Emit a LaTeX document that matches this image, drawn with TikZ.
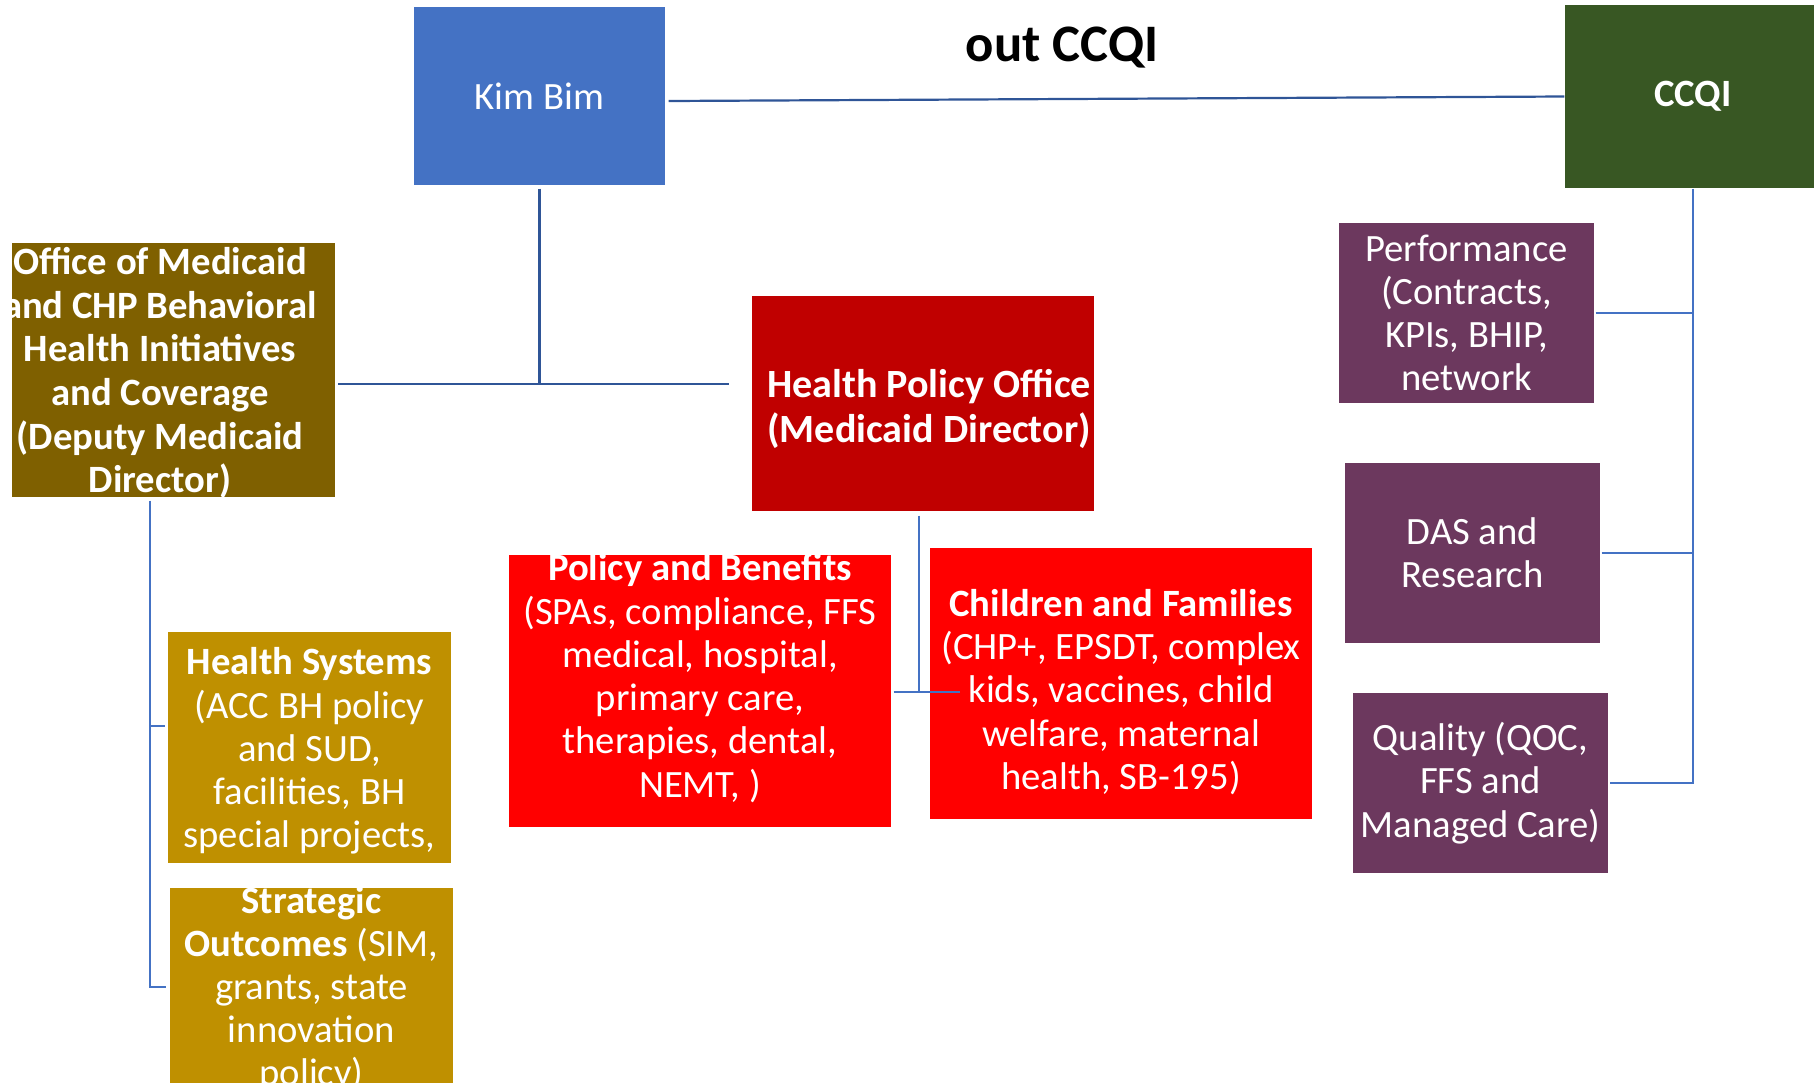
\documentclass[tikz,border=0pt]{standalone}
\usepackage{fontspec}
\setmainfont{Carlito}
\usepackage{xcolor}
\definecolor{kimblue}{HTML}{4472C4}
\definecolor{linkblue}{HTML}{2F5597}
\definecolor{ccqigreen}{HTML}{385723}
\definecolor{deputyolive}{HTML}{7F6000}
\definecolor{teamgold}{HTML}{BF9000}
\definecolor{hpored}{HTML}{C00000}
\definecolor{teamred}{HTML}{FF0000}
\definecolor{ccqiplum}{HTML}{6C385E}
\usetikzlibrary{calc}

\begin{document}
\begin{tikzpicture}[
		unit/.style = {rectangle, inner sep = 0pt, text = white, align = center, font = \fontsize{11}{12.3}\selectfont},
		link/.style = {draw = kimblue, line width = 0.28mm},
		toplink/.style = {draw = linkblue, line width = 0.22mm}
	]
	\useasboundingbox (0,0) rectangle (18.14,-10.85);

	\node[font = \fontsize{15}{18}\selectfont\bfseries, anchor = base] (title) at (10.62,-0.61) {out CCQI};

	\node[unit, fill = kimblue, minimum width = 2.51cm, minimum height = 1.78cm] (kim) at (5.395,-0.96) {Kim Bim};
	\node[unit, fill = ccqigreen, minimum width = 2.56cm, minimum height = 1.83cm, font = \fontsize{11}{12.3}\selectfont\bfseries] (ccqi) at (16.93,-0.965) {CCQI};

	\node[unit, fill = deputyolive, minimum width = 3.23cm, minimum height = 2.54cm] (office) at (1.735,-3.70) {};
	\begin{scope}
		\clip (office.south west) rectangle (office.north east);
		\node[unit, font = \fontsize{11}{12.4}\selectfont\bfseries] (officetext) at (1.60,-3.73) {Office of Medicaid\\and CHP Behavioral\\Health Initiatives\\and Coverage\\(Deputy Medicaid\\Director)};
	\end{scope}

	\node[unit, fill = hpored, minimum width = 3.42cm, minimum height = 2.15cm] (hpo) at (9.23,-4.035) {};
	\node[unit, font = \fontsize{11.4}{12.6}\selectfont\bfseries] (hpotext) at (9.29,-4.09) {Health Policy Office\\(Medicaid Director)};

	\node[unit, fill = teamred, minimum width = 3.82cm, minimum height = 2.72cm] (policy) at (7.00,-6.91) {};
	\node[unit] (policytext) at (7.00,-6.78) {\textbf{Policy and Benefits}\\(SPAs, compliance, FFS\\medical, hospital,\\primary care,\\therapies, dental,\\NEMT, )};
	\node[unit, fill = teamred, minimum width = 3.82cm, minimum height = 2.71cm] (children) at (11.21,-6.835) {};
	\node[unit] (childrentext) at (11.21,-6.92) {\textbf{Children and Families}\\(CHP+, EPSDT, complex\\kids, vaccines, child\\welfare, maternal\\health, SB-195)};

	\node[unit, fill = teamgold, minimum width = 2.83cm, minimum height = 2.31cm] (hsys) at (3.095,-7.475) {};
	\node[unit] (hsystext) at (3.095,-7.51) {\textbf{Health Systems}\\(ACC BH policy\\and SUD,\\facilities, BH\\special projects,};
	\node[unit, fill = teamgold, minimum width = 2.83cm, minimum height = 1.95cm] (strat) at (3.115,-9.855) {};
	\node[unit] (strattext) at (3.115,-9.89) {\textbf{Strategic}\\\textbf{Outcomes} (SIM,\\grants, state\\innovation\\policy)};

	\node[unit, fill = ccqiplum, minimum width = 2.55cm, minimum height = 1.80cm] (perf) at (14.665,-3.13) {Performance\\(Contracts,\\KPIs, BHIP,\\network};
	\node[unit, fill = ccqiplum, minimum width = 2.55cm, minimum height = 1.80cm] (das) at (14.725,-5.53) {DAS and\\Research};
	\node[unit, fill = ccqiplum, minimum width = 2.55cm, minimum height = 1.80cm] (quality) at (14.805,-7.83) {Quality (QOC,\\FFS and\\Managed Care)};

	\coordinate (midL) at (3.38,-3.84);
	\coordinate (midR) at (7.29,-3.84);
	\coordinate (hpodrop) at (9.19,-6.92);
	\coordinate (childtip) at (9.60,-6.92);
	\coordinate (officedrop) at (1.50,-9.87);

	\draw[toplink] ([xshift = 0.3mm, yshift = -0.5mm]kim.east) -- (ccqi.west);
	\draw[toplink] ([yshift = -0.3mm]kim.south) -- (kim.south |- midL);
	\draw[toplink] (midL) -- (midR);

	\draw[link] ([yshift = -0.4mm]hpodrop |- hpo.south) -- (hpodrop);
	\draw[link] ([xshift = 0.2mm]policy.east |- hpodrop) -- (childtip);

	\draw[link] ([yshift = -0.3mm]officedrop |- office.south) -- (officedrop) -- ([xshift = -0.3mm]strat.west |- officedrop);
	\draw[link] (officedrop |- 0,-7.26) -- ([xshift = -0.2mm]hsys.west |- 0,-7.26);

	\draw[link] (ccqi.south) -- (ccqi.south |- quality.east) -- ([xshift = 0.1mm]quality.east);
	\draw[link] ([xshift = 0.1mm]perf.east) -- (perf.east -| ccqi.south);
	\draw[link] ([xshift = 0.1mm]das.east) -- (das.east -| ccqi.south);
\end{tikzpicture}
\end{document}
